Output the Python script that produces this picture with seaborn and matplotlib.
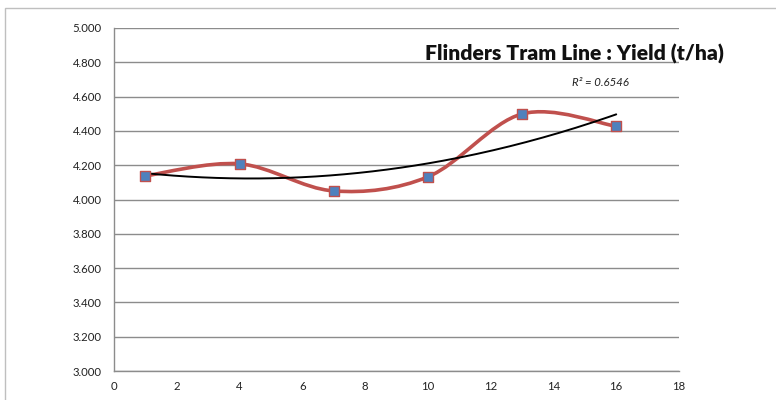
import matplotlib
matplotlib.use("Agg")
import matplotlib.pyplot as plt
import seaborn as sns
import numpy as np
import pandas as pd
from matplotlib.path import Path
from matplotlib.patches import PathPatch, Rectangle

# data
trial_x = [1, 4, 7, 10, 13, 16]
yield_t_ha = [4.138, 4.208, 4.050, 4.132, 4.499, 4.427]
title_text = "Flinders Tram Line : Yield (t/ha)"
r2_text = "R² = 0.6546"

sns.set_style("white")
plt.rcParams['font.family'] = ['Lato', 'DejaVu Sans']

df = pd.DataFrame({'x': trial_x, 'y': yield_t_ha})

fig = plt.figure(figsize=(7.76, 4.0), dpi=100)
ax = fig.add_axes([114 / 776, 29 / 400, 565 / 776, 343 / 400])

# outer chart frame
fig.add_artist(Rectangle((5 / 776, -0.1), 1.2, (392 / 400) + 0.1, transform=fig.transFigure,
                         fill=False, edgecolor='#bfbfbf', linewidth=1.0))


def smooth_path(xs, ys):
    # Excel-style smoothed line: cubic bezier through the points
    pts = np.column_stack([xs, ys]).astype(float)
    n = len(pts)
    verts = [pts[0]]
    codes = [Path.MOVETO]
    for i in range(n - 1):
        p0 = pts[i - 1] if i > 0 else pts[i]
        p1 = pts[i]
        p2 = pts[i + 1]
        p3 = pts[i + 2] if i + 2 < n else pts[i + 1]
        c1 = p1 + (p2 - p0) / 6.0
        c2 = p2 - (p3 - p1) / 6.0
        verts += [c1, c2, p2]
        codes += [Path.CURVE4] * 3
    return Path(verts, codes)


ax.add_patch(PathPatch(smooth_path(df['x'], df['y']), facecolor='none',
                       edgecolor='#c0504d', linewidth=2.6, zorder=3))

# polynomial (order 2) trendline
coef = np.polyfit(df['x'], df['y'], 2)
tx = np.linspace(df['x'].min(), df['x'].max(), 200)
trend = pd.DataFrame({'x': tx, 'y': np.polyval(coef, tx)})
sns.lineplot(data=trend, x='x', y='y', ax=ax, color='black', linewidth=1.4, zorder=4)

sns.scatterplot(data=df, x='x', y='y', ax=ax, marker='s', s=60, color='#4f81bd',
                edgecolor='#c0504d', linewidth=1.0, zorder=5)

ax.set_xlim(0, 18)
ax.set_ylim(3.0, 5.0)
ax.set_xticks(range(0, 19, 2))
ax.set_yticks(np.arange(3.0, 5.01, 0.2))
ax.yaxis.set_major_formatter(matplotlib.ticker.FormatStrFormatter('%.3f'))
ax.grid(axis='y', color='#8c8c8c', linewidth=1.0)
ax.set_axisbelow(True)
ax.set_xlabel('')
ax.set_ylabel('')
for s in ['top', 'right']:
    ax.spines[s].set_visible(False)
for s in ['left', 'bottom']:
    ax.spines[s].set_color('#8c8c8c')
    ax.spines[s].set_linewidth(1.0)
ax.tick_params(axis='both', which='major', length=4, width=1.0, color='#8c8c8c',
               labelsize=8.2, labelcolor='#222222', direction='out')
ax.tick_params(axis='y', pad=5)
ax.tick_params(axis='x', pad=3)

fig.text(574 / 776, 1 - 54 / 400, title_text, ha='center', va='center',
         fontsize=15.2, fontweight='heavy', color='#111111')
fig.text(600 / 776, 1 - 82 / 400, r2_text, ha='center', va='center',
         fontsize=8.2, style='italic', color='#222222')

fig.savefig('out.png', dpi=100)
